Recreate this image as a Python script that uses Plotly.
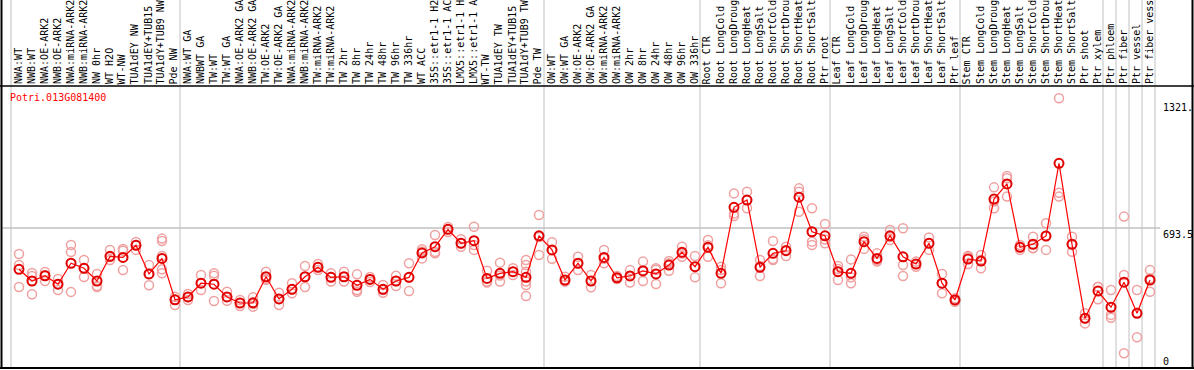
import plotly.graph_objects as go

labels = ["NWA:WT", "NWB:WT", "NWA:OE-ARK2", "NWB:OE-ARK2", "NWA:miRNA-ARK2", "NWB:miRNA-ARK2",
          "NW 0hr", "WT H2O", "WT-NW", "TUA1dEY NW", "TUA1dEY+TUB15", "TUA1dY+TUB9 NW", "Pde NW",
          "NWA:WT GA", "NWBWT GA", "TW:WT", "TW:WT GA", "NWA:OE-ARK2 GA", "NWB:OE-ARK2 GA",
          "TW:OE-ARK2", "TW:OE-ARK2 GA", "NWA:miRNA-ARK2", "NWB:miRNA-ARK2", "TW:miRNA-ARK2",
          "TW:miRNA-ARK2", "TW 2hr", "TW 8hr", "TW 24hr", "TW 48hr", "TW 96hr", "TW 336hr",
          "WT ACC", "35S::etr1-1 H2", "35S::etr1-1 AC", "LMX5::etr1-1 H", "LMX5::etr1-1 A",
          "WT-TW", "TUA1dEY TW", "TUA1dEY+TUB15", "TUA1dY+TUB9 TW", "Pde TW",
          "OW:WT", "OW:WT GA", "OW:OE-ARK2", "OW:OE-ARK2 GA", "OW:miRNA-ARK2", "OW:miRNA-ARK2",
          "OW 2hr", "OW 8hr", "OW 24hr", "OW 48hr", "OW 96hr", "OW 336hr",
          "Root CTR", "Root LongCold", "Root LongDroug", "Root LongHeat", "Root LongSalt",
          "Root ShortCold", "Root ShortDrou", "Root ShortHeat", "Root ShortSalt", "Ptr root",
          "Leaf CTR", "Leaf LongCold", "Leaf LongDroug", "Leaf LongHeat", "Leaf LongSalt",
          "Leaf ShortCold", "Leaf ShortDrou", "Leaf ShortHeat", "Leaf ShortSalt", "Ptr leaf",
          "Stem CTR", "Stem LongCold", "Stem LongDroug", "Stem LongHeat", "Stem LongSalt",
          "Stem ShortCold", "Stem ShortDrou", "Stem ShortHeat", "Stem ShortSalt", "Ptr shoot",
          "Ptr xylem", "Ptr phloem", "Ptr fiber", "Ptr vessel", "Ptr fiber vessel"]

mean_values = [489, 431, 457, 415, 519, 494, 431, 553, 548, 608, 466, 543, 338,
               352, 420, 415, 352, 322, 323, 452, 342, 390, 452, 499, 449, 452, 410, 439,
               390, 431, 449, 570, 601, 687, 618, 631, 444, 469, 477, 449, 655,
               585, 436, 519, 431, 548, 447, 456, 481, 466, 510, 573, 502,
               598, 469, 796, 832, 499, 568, 581, 846, 675, 655,
               477, 469, 626, 543, 655, 551, 515, 618, 420, 337,
               540, 530, 837, 912, 598, 613, 654, 1014, 613, 246, 381,
               301, 425, 271, 436]

replicates = [
    [565, 510, 401], [471, 456, 365], [476, 461, 431], [441, 416, 386], [609, 575, 377],
    [535, 495, 451], [466, 406, 401], [585, 550, 535], [590, 581, 485], [624, 609, 585],
    [510, 466, 410], [641, 629, 555, 489, 469], [353, 338, 312],
    [367, 352, 337], [461, 421, 386], [469, 457, 332], [378, 352, 333], [337, 322, 307],
    [350, 318, 304], [477, 442, 437], [373, 342, 312], [420, 390, 370], [505, 451, 401],
    [515, 500, 485], [469, 451, 428], [477, 451, 428], [464, 386, 378], [451, 441, 426],
    [411, 386, 373], [457, 431, 406], [519, 448, 381], [588, 577, 543], [659, 575, 568],
    [699, 687, 674], [638, 618, 601], [700, 609, 585], [482, 429, 423], [522, 458, 428],
    [494, 477, 461], [535, 510, 477, 428, 411, 357], [758, 649, 560],
    [623, 585, 541], [452, 429, 428], [551, 519, 485], [461, 431, 400], [585, 541, 519],
    [456, 446, 441], [485, 456, 423], [527, 484, 431], [494, 487, 416], [530, 519, 482],
    [601, 567, 551], [555, 502, 449],
    [634, 608, 551], [502, 485, 420], [865, 766, 753], [873, 832, 791], [535, 505, 456],
    [629, 540, 535], [601, 585, 555], [890, 873, 774], [791, 626, 609], [713, 636, 618],
    [505, 490, 436], [538, 449, 420], [650, 638, 590], [568, 535, 527], [684, 649, 634],
    [692, 510, 456], [527, 515, 502], [647, 618, 585], [466, 420, 370], [345, 337, 328],
    [556, 550, 515], [560, 535, 494], [895, 825, 791], [951, 940, 849], [609, 599, 585],
    [650, 594, 593], [717, 654, 585], [1336, 868, 849], [650, 613, 576], [271, 246, 221],
    [403, 401, 340],
    [386, 263, 249], [750, 461, 73], [386, 274, 152], [485, 444, 378]]

group_starts = [0, 13, 41, 53, 63, 73, 84, 85, 86, 87, 88]
y_ticks = [1321, 693.5, 0]
y_tick_text = ["1321.", "693.5", "0"]
gene = "Potri.013G081400"

W, H = 1194, 370
PX = 13.0            # pixels per column
X0 = 19.0            # pixel of first column
VPP = 4.954          # value per pixel
Y0PX = 368.0         # pixel row of value 0

xs = list(range(len(labels)))
rep_x, rep_y = [], []
for i, reps in enumerate(replicates):
    for v in reps:
        rep_x.append(i)
        rep_y.append(v)

fig = go.Figure()
fig.add_trace(go.Scatter(x=rep_x, y=rep_y, mode="markers",
                         marker=dict(symbol="circle-open", size=9, color="#f0a0a0",
                                     line=dict(width=1.5, color="#f0a0a0")),
                         hoverinfo="skip", showlegend=False))
fig.add_trace(go.Scatter(x=xs, y=mean_values, mode="lines+markers",
                         line=dict(color="#ff0000", width=1.2),
                         marker=dict(symbol="circle-open", size=9, color="#e00000",
                                     line=dict(width=2, color="#e00000")),
                         showlegend=False))

shapes = []
for k in group_starts:
    xb = k - (X0 - 11) / PX
    shapes.append(dict(type="line", xref="x", yref="paper", x0=xb, x1=xb, y0=1 - 368 / H, y1=1,
                       line=dict(color="#c0c0c0", width=1), layer="below"))
shapes.append(dict(type="line", xref="paper", yref="y", x0=2 / W, x1=1160 / W,
                   y0=693.5, y1=693.5, line=dict(color="#c0c0c0", width=1.5), layer="below"))
# frame
shapes.append(dict(type="line", xref="paper", yref="paper", x0=0, x1=1, y0=1 - 86 / H, y1=1 - 86 / H,
                   line=dict(color="black", width=1.5)))
shapes.append(dict(type="line", xref="paper", yref="paper", x0=0, x1=1, y0=1 - 368 / H, y1=1 - 368 / H,
                   line=dict(color="black", width=2)))
shapes.append(dict(type="line", xref="paper", yref="paper", x0=1.5 / W, x1=1.5 / W, y0=1 - 368 / H, y1=1,
                   line=dict(color="black", width=2)))
shapes.append(dict(type="line", xref="paper", yref="paper", x0=1192.5 / W, x1=1192.5 / W, y0=1 - 368 / H, y1=1,
                   line=dict(color="black", width=2)))

annotations = []
font = "DejaVu Sans Mono"
for i, lab in enumerate(labels):
    annotations.append(dict(x=i - 0.08, y=1 - 85 / H, xref="x", yref="paper", text=lab[:14],
                            textangle=-90, showarrow=False, xanchor="center", yanchor="bottom",
                            font=dict(family=font, size=10, color="black"), borderpad=0))
annotations.append(dict(x=9 / W, y=1 - 97 / H, xref="paper", yref="paper", text=gene,
                        showarrow=False, xanchor="left", yanchor="middle",
                        font=dict(family=font, size=10, color="#ff0000"), borderpad=0))
for v, t in zip(y_ticks, y_tick_text):
    annotations.append(dict(x=1162 / W, y=v, xref="paper", yref="y", text=t, showarrow=False,
                            xanchor="left", yanchor="bottom" if v == 0 else "top",
                            font=dict(family=font, size=10, color="black"), borderpad=0))

vmin = -(H - Y0PX) * VPP
vmax = vmin + H * VPP
fig.update_layout(
    width=W, height=H, margin=dict(l=0, r=0, t=0, b=0),
    paper_bgcolor="white", plot_bgcolor="white",
    xaxis=dict(range=[-X0 / PX, (W - X0) / PX], showgrid=False, zeroline=False,
               showticklabels=False, fixedrange=True),
    yaxis=dict(range=[vmin, vmax], showgrid=False, zeroline=False,
               showticklabels=False, fixedrange=True),
    shapes=shapes, annotations=annotations,
)
fig.write_html("out.html", config={"displayModeBar": False},
               post_script="document.body.style.margin='0';document.body.style.overflow='hidden';")
